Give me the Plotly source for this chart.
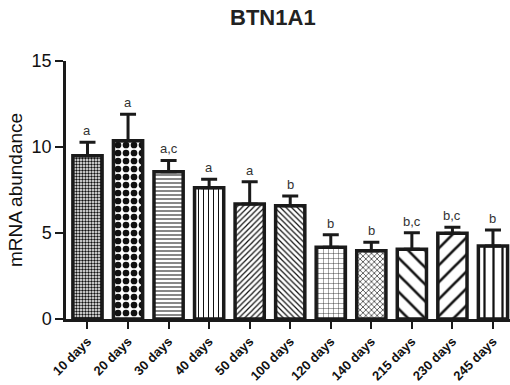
import plotly.graph_objects as go

categories = ["10 days", "20 days", "30 days", "40 days", "50 days", "100 days",
              "120 days", "140 days", "215 days", "230 days", "245 days"]
values = [9.49, 10.37, 8.56, 7.63, 6.69, 6.59, 4.17, 3.97, 4.05, 4.98, 4.24]
errors = [0.78, 1.53, 0.66, 0.49, 1.29, 0.56, 0.73, 0.49, 0.97, 0.35, 0.93]
letters = ["a", "a", "a,c", "a", "a", "b", "b", "b", "b,c", "b,c", "b"]
patterns = [".", ".", "-", "|", "/", "\\", "+", "x", "\\", "/", "|"]
pattern_sizes = [3, 8, 4, 5, 4, 4, 5, 4, 12, 12, 9]
solidities = [0.5, 0.55, 0.25, 0.2, 0.3, 0.3, 0.15, 0.3, 0.22, 0.22, 0.25]

font = "Liberation Sans, Arial, sans-serif"
fig = go.Figure()
fig.add_trace(go.Bar(
    x=categories, y=values, width=0.72,
    marker=dict(color="white", line=dict(color="#1a1a1a", width=3.5),
                pattern=dict(shape=patterns, size=pattern_sizes, solidity=solidities,
                             fgcolor="#111", fgopacity=1, bgcolor="white", fillmode="overlay")),
    error_y=dict(type="data", symmetric=False, array=errors, arrayminus=[0]*len(errors),
                 color="#1a1a1a", thickness=3, width=8),
    showlegend=False,
))
for c, v, e, t in zip(categories, values, errors, letters):
    fig.add_annotation(x=c, y=v + e, text=t, showarrow=False, yanchor="bottom", yshift=2,
                       font=dict(family=font, size=13, color="#333"))

fig.update_layout(
    width=510, height=385,
    margin=dict(l=66, r=0, t=61, b=66),
    plot_bgcolor="white", paper_bgcolor="white",
    title=dict(text="<b>BTN1A1</b>", x=0.535, xanchor="center", xref="container",
               y=0.955, yanchor="middle", yref="container",
               font=dict(family=font, size=22, color="#222")),
    xaxis=dict(range=[-0.53, 10.42], showline=True, linecolor="#1a1a1a", linewidth=2.5,
               ticks="outside", ticklen=7, tickwidth=2, tickcolor="#1a1a1a", tickangle=-45,
               tickfont=dict(family=font, size=13, color="#111"), showgrid=False),
    yaxis=dict(range=[0, 15], tickvals=[0, 5, 10, 15], showline=True, linecolor="#1a1a1a",
               linewidth=2.5, ticks="outside", ticklen=8, tickwidth=2, tickcolor="#1a1a1a",
               tickfont=dict(family=font, size=18, color="#111"), showgrid=False, zeroline=False,
               title=dict(text="mRNA abundance", font=dict(family=font, size=19, color="#111"),
                          standoff=4)),
)
fig.update_xaxes(tickprefix="<b>", ticksuffix="</b>")
fig.update_yaxes(tickprefix="<b>", ticksuffix="</b>")
fig.write_html("out.html")
